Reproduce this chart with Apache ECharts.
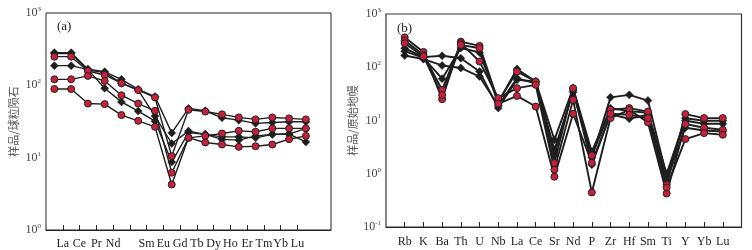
<!DOCTYPE html>
<html><head><meta charset="utf-8">
<script src="https://cdn.jsdelivr.net/npm/echarts@6/dist/echarts.min.js"></script>
<style>html,body{margin:0;padding:0;background:#fff}#c{width:752px;height:250px}</style>
</head><body><div id="c"></div>
<script>
// ---------- Panel (a): chondrite-normalised REE ----------
const reeLabels = ['La','Ce','Pr','Nd','','Sm','Eu','Gd','Tb','Dy','Ho','Er','Tm','Yb','Lu'];
// values as plotted (16 points per sample; in the reference they sit half a step left of the ticks)
const aDiamond1 = [283,283,167,154,121,88,70,22,48,44.5,35.6,33,29.8,30.7,31.3,31.3];
const aCircle1  = [249,249,158,139,107,86,68,10.5,46,43.4,39.7,36,33.8,36,34.9,33.8];
const aDiamond2 = [187,187,165,91,59,44,32,8.7,22.3,21,19.4,19.4,18.8,21,21.2,16.5];
const aCircle2  = [121,121,135,115,73,56,44.5,6.2,18.8,20,21.6,23.5,22.8,25.4,25.4,25.4];
const aCircle3  = [89,89,56,55,38.8,32.3,26.7,4.25,18.8,16.2,15.2,14.1,14.4,15.2,18,20];
const aDiamond3 = [276,276,162,150,107,86,37.6,15.7,23.3,21,17.9,17.5,20,21,21.2,25.4];

// ---------- Panel (b): primitive-mantle-normalised spider ----------
const spiderLabels = ['Rb','K','Ba','Th','U','Nb','La','Ce','Sr','Nd','P','Zr','Hf','Sm','Ti','Y','Yb','Lu'];
const bCircle1  = [364,194,25.2,303,252,22.7,83,54,1.59,40.5,2.2,15.9,17.1,14.7,0.62,13.2,11.1,11.1];
const bCircle2  = [317,171,37.7,283,128,26.3,40.5,46.7,1.19,24.4,0.446,11.1,15.9,9.2,0.427,8.6,7.3,6.7];
const bCircle3  = [283,160,30,263,228,20.6,29,18.3,0.88,13.4,1.6,13.4,12.8,11.1,0.55,4.48,5.8,5.4];
const bDiamond1 = [228,155,164,148,83,17.1,58,54,2.82,34,2.0,27.2,30.3,23.7,0.9,9.9,8.7,8.7];
const bDiamond2 = [166,142,108,97,67,19,62,50,2.27,37,1.48,13,10.8,12.8,0.75,7.3,6.5,6.2];
const bDiamond3 = [200,150,61,230,190,22,93,54,4.34,40.5,2.6,17,15,14,1.0,11,9.9,9.9];

const serif = '"Liberation Serif","DejaVu Serif",serif';
const cjk = '"Noto Sans CJK SC",sans-serif';
const RED = '#c8203a', INK = '#1e1e1e';

function yLabel(v){
  const e = Math.round(Math.log10(v));
  return '{m|10}{s|' + e + '}';
}
const yRich = {
  m:{fontFamily:serif,fontSize:12,color:'#444'},
  s:{fontFamily:serif,fontSize:7,color:'#444',padding:[0,0,8,0]}
};

function mk(data, isCircle, xi, yi, mapIdx, w){
  return {
    type:'line', xAxisIndex:xi, yAxisIndex:yi,
    data: mapIdx ? data.map((v,i)=>[i+1,v]) : data,
    symbol: isCircle ? 'circle' : 'diamond',
    symbolSize: isCircle ? 7 : 8,
    itemStyle: isCircle ? {color:RED,borderColor:'#222',borderWidth:1} : {color:INK,borderColor:INK,borderWidth:0.5},
    lineStyle:{color:INK,width:w},
    silent:true, animation:false, z: isCircle ? 3 : 2
  };
}

const chart = echarts.init(document.getElementById('c'), null, {renderer:'canvas'});
chart.setOption({
  animation:false,
  backgroundColor:'#fff',
  title:[
    {text:'(a)',left:52,top:15,textStyle:{fontFamily:serif,fontSize:13,fontWeight:'normal',color:'#222'}},
    {text:'(b)',left:392,top:17,textStyle:{fontFamily:serif,fontSize:13,fontWeight:'normal',color:'#222'}}
  ],
  grid:[
    {left:46,top:13,width:285,height:217,show:true,borderColor:'#222',borderWidth:1},
    {left:386,top:14,width:355.5,height:213,show:true,borderColor:'#333',borderWidth:1.2}
  ],
  xAxis:[
    {type:'category',gridIndex:0,boundaryGap:false,data:['',...reeLabels,'',''],
     axisLine:{lineStyle:{color:'#222'}},
     axisTick:{inside:true,length:5,interval:(i)=>i>=1&&i<=reeLabels.length,lineStyle:{color:'#222'}},
     axisLabel:{interval:0,margin:8,fontFamily:serif,fontSize:12,color:'#222'},splitLine:{show:false}},
    {type:'category',gridIndex:0,boundaryGap:true,show:false,
     data:Array.from({length:reeLabels.length+2},(_,i)=>'s'+i)},
    {type:'category',gridIndex:1,boundaryGap:false,data:['',...spiderLabels,''],
     axisLine:{lineStyle:{color:'#222'}},
     axisTick:{inside:true,length:5,interval:(i)=>i>=1&&i<=spiderLabels.length,lineStyle:{color:'#222'}},
     axisLabel:{interval:0,margin:9,fontFamily:serif,fontSize:12,color:'#222'},splitLine:{show:false}}
  ],
  yAxis:[
    {type:'log',logBase:10,gridIndex:0,min:1,max:1000,
     name:'样品/球粒陨石',nameLocation:'middle',nameGap:27,nameRotate:90,
     nameTextStyle:{fontFamily:cjk,fontSize:11,color:'#555'},
     axisLine:{lineStyle:{color:'#222'}},axisTick:{length:4,lineStyle:{color:'#222'}},
     axisLabel:{formatter:yLabel,rich:yRich,margin:5},splitLine:{show:false},minorTick:{show:false}},
    {type:'log',logBase:10,gridIndex:1,min:0.1,max:1000,
     name:'样品/原始地幔',nameLocation:'middle',nameGap:28,nameRotate:90,
     nameTextStyle:{fontFamily:cjk,fontSize:11,color:'#555'},
     axisLine:{lineStyle:{color:'#222'}},axisTick:{length:4,lineStyle:{color:'#222'}},
     axisLabel:{formatter:yLabel,rich:yRich,margin:5},splitLine:{show:false},minorTick:{show:false}}
  ],
  series:[
    mk(aCircle1,true,1,0,false,1.4), mk(aCircle2,true,1,0,false,1.4), mk(aCircle3,true,1,0,false,1.4),
    mk(aDiamond1,false,1,0,false,1.4), mk(aDiamond2,false,1,0,false,1.4), mk(aDiamond3,false,1,0,false,1.4),
    mk(bCircle1,true,2,1,true,1.9), mk(bCircle2,true,2,1,true,1.9), mk(bCircle3,true,2,1,true,1.9),
    mk(bDiamond1,false,2,1,true,1.9), mk(bDiamond2,false,2,1,true,1.9), mk(bDiamond3,false,2,1,true,1.9)
  ]
});
</script></body></html>
